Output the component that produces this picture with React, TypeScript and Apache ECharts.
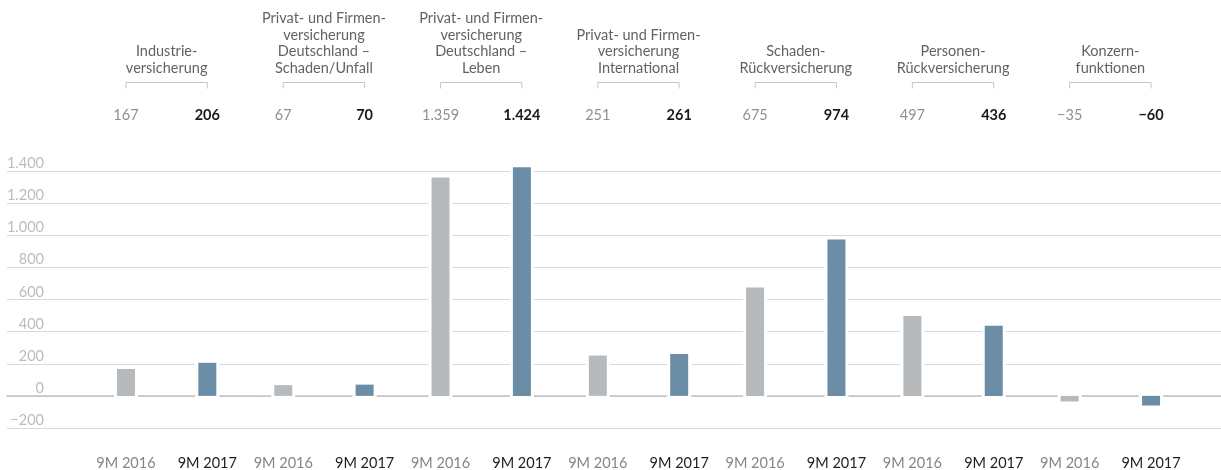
import React, { useEffect, useRef } from "react";
import * as echarts from "echarts";

const groups = [
  "Industrie-\nversicherung",
  "Privat- und Firmen-\nversicherung\nDeutschland –\nSchaden/Unfall",
  "Privat- und Firmen-\nversicherung\nDeutschland –\nLeben",
  "Privat- und Firmen-\nversicherung\nInternational",
  "Schaden-\nRückversicherung",
  "Personen-\nRückversicherung",
  "Konzern-\nfunktionen",
];
const periods = ["9M 2016", "9M 2017"];
const values2016 = [167, 67, 1359, 251, 675, 497, -35];
const values2017 = [206, 70, 1424, 261, 974, 436, -60];
const yMin = -200;
const yMax = 1400;
const yStep = 200;

const FONT = "Lato, 'Noto Sans', sans-serif";
const FS = 14.5;
const GRAY_BAR = "#b6babd";
const BLUE_BAR = "#6b8ea6";
const BAR_W = 18;
const BAR_GAP = "352%";

const fmt = (v: number) =>
  (v < 0 ? "\u2212" : "") +
  String(Math.abs(v)).replace(/\B(?=(\d{3})+(?!\d))/g, ".");

export default function App() {
  const ref = useRef<HTMLDivElement>(null);
  useEffect(() => {
    if (!ref.current) return;
    const chart = echarts.init(ref.current, undefined, { renderer: "svg" });

    chart.setOption({
      animation: false,
      textStyle: { fontFamily: FONT },
      grid: [
        { left: 7, right: 0, top: 171, height: 257, containLabel: false },
        { left: 88, width: 1101, top: 171, height: 257, containLabel: false },
      ],
      xAxis: [
        {
          gridIndex: 0,
          type: "value",
          min: 0,
          max: 1,
          axisLine: { show: true, onZero: true, lineStyle: { color: "#bfc2c5", width: 1.5 } },
          axisTick: { show: false },
          axisLabel: { show: false },
          splitLine: { show: false },
        },
        {
          gridIndex: 1,
          type: "category",
          data: groups,
          position: "top",
          offset: 95,
          axisLine: { show: false, onZero: false },
          axisTick: { show: false },
          axisLabel: {
            interval: 0,
            margin: 0,
            verticalAlign: "bottom",
            align: "center",
            color: "#5d6469",
            fontSize: FS,
            lineHeight: 16.7,
            fontFamily: FONT,
          },
        },
      ],
      yAxis: [
        {
          gridIndex: 0,
          type: "value",
          min: yMin,
          max: yMax,
          interval: yStep,
          axisLine: { show: false },
          axisTick: { show: false },
          splitLine: { show: true, lineStyle: { color: "#d8dadc", width: 1 } },
          axisLabel: {
            inside: true,
            align: "right",
            margin: 37,
            verticalAlign: "bottom",
            lineHeight: 17,
            color: "#b9bdc0",
            fontSize: FS,
            fontFamily: FONT,
            formatter: (v: number) => fmt(v),
          },
        },
        {
          gridIndex: 1,
          type: "value",
          min: yMin,
          max: yMax,
          interval: yStep,
          show: false,
          splitLine: { show: false },
        },
      ],
      series: [
        {
          type: "custom",
          name: "decor",
          xAxisIndex: 1,
          yAxisIndex: 1,
          silent: true,
          clip: false,
          z: 3,
          data: groups.map((_, i) => [i, values2016[i], values2017[i]]),
          encode: { x: 0, y: [1, 2] },
          renderItem: (_params: any, api: any) => {
            const i = api.value(0);
            const base = api.coord([i, 0]);
            const cx = base[0];
            const y0 = base[1];
            const layout = api.barLayout({ count: 2, barWidth: BAR_W, barGap: BAR_GAP });
            const children: any[] = [];
            const xs: number[] = [];
            for (let k = 0; k < 2; k++) {
              const x = cx + layout[k].offsetCenter;
              xs.push(x);
              const v = api.value(1 + k);
              const yv = api.coord([i, v])[1];
              const w = layout[k].width;
              children.push({
                type: "rect",
                shape: {
                  x: x - w / 2 - 3,
                  y: Math.min(yv, y0) - 3,
                  width: w + 6,
                  height: Math.abs(yv - y0) + 6,
                },
                style: { fill: "#ffffff" },
              });
              children.push({
                type: "text",
                x,
                y: 114,
                style: {
                  text: fmt(v),
                  fill: k ? "#1a1a1a" : "#8c9196",
                  fontSize: FS,
                  fontWeight: k ? "bold" : "normal",
                  fontFamily: FONT,
                  align: "center",
                  verticalAlign: "middle",
                },
              });
              children.push({
                type: "text",
                x,
                y: 462,
                style: {
                  text: periods[k],
                  fill: k ? "#1e1e1e" : "#80868b",
                  fontSize: FS,
                  fontFamily: FONT,
                  align: "center",
                  verticalAlign: "middle",
                },
              });
            }
            children.push({
              type: "polyline",
              shape: {
                points: [
                  [xs[0], 88.5],
                  [xs[0], 82.5],
                  [xs[1], 82.5],
                  [xs[1], 88.5],
                ],
              },
              style: { stroke: "#c4c7ca", fill: "none", lineWidth: 1 },
            });
            return { type: "group", children };
          },
        },
        {
          type: "bar",
          name: periods[0],
          xAxisIndex: 1,
          yAxisIndex: 1,
          barWidth: BAR_W,
          barGap: BAR_GAP,
          clip: false,
          z: 4,
          itemStyle: { color: GRAY_BAR },
          data: values2016,
        },
        {
          type: "bar",
          name: periods[1],
          xAxisIndex: 1,
          yAxisIndex: 1,
          barWidth: BAR_W,
          barGap: BAR_GAP,
          clip: false,
          z: 4,
          itemStyle: { color: BLUE_BAR },
          data: values2017,
        },
      ],
    });
    return () => chart.dispose();
  }, []);
  return (
    <div
      ref={ref}
      style={{ position: "fixed", left: 0, top: 0, width: 1221, height: 470 }}
    />
  );
}
